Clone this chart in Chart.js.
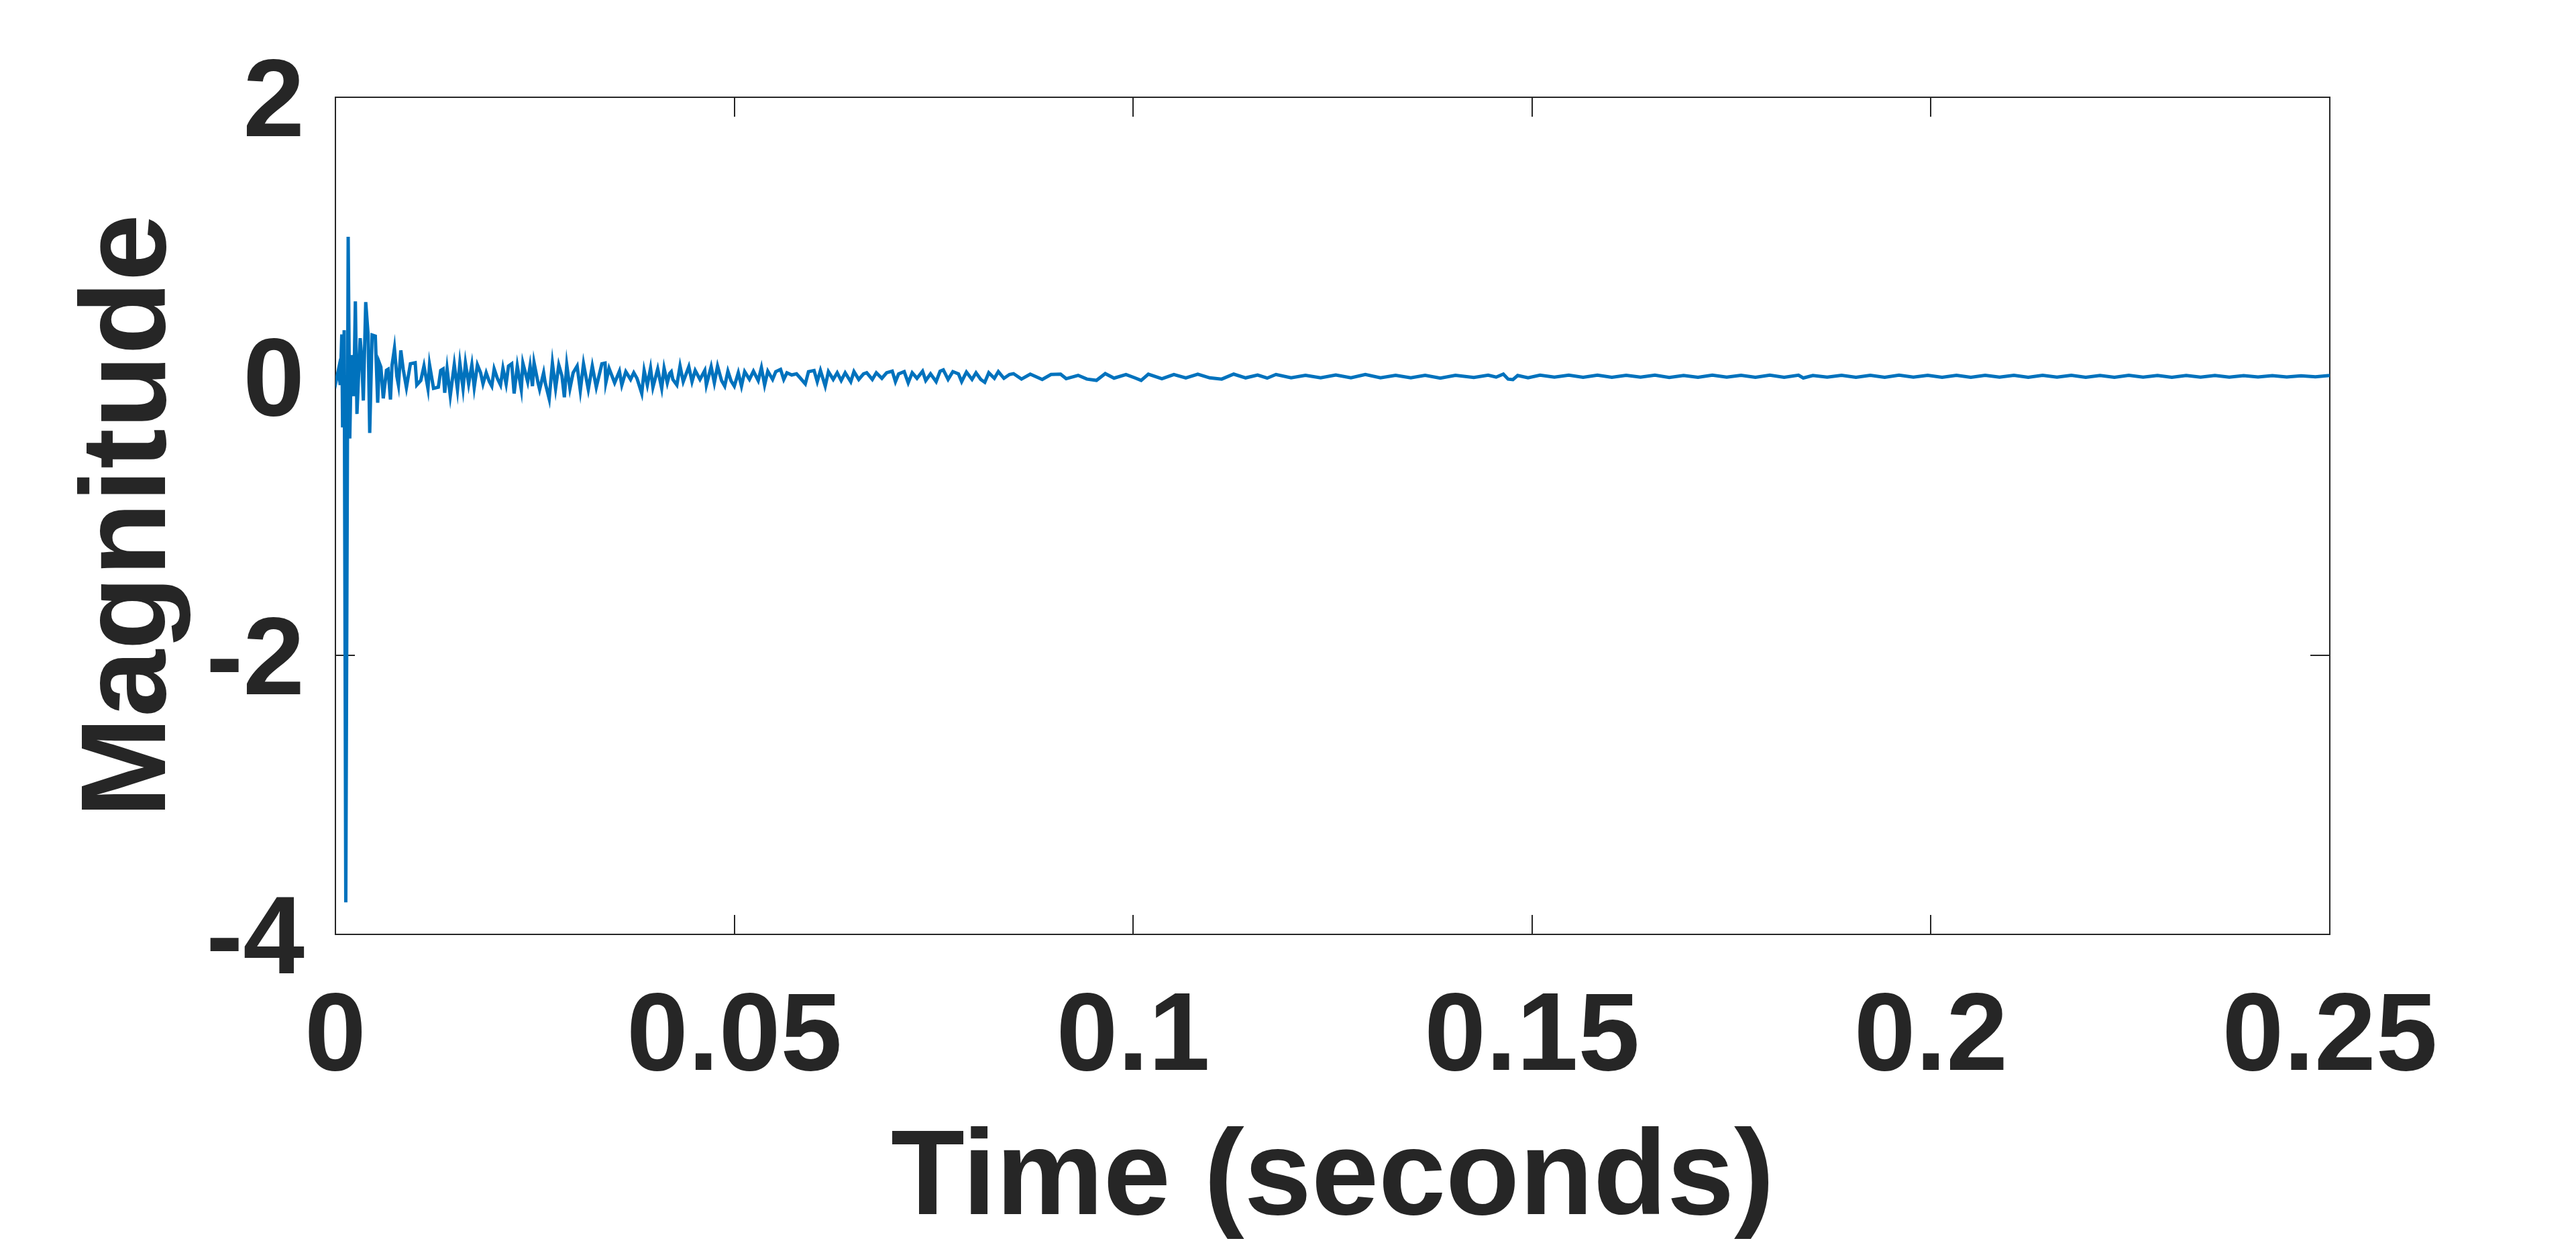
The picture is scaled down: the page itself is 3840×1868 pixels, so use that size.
<!DOCTYPE html>
<html>
<head>
    <meta charset="UTF-8">
    <title>Magnitude vs Time</title>
    <script src="https://cdn.jsdelivr.net/npm/chart.js@4.4.1/dist/chart.umd.min.js"></script>
    <style>
        body {
            margin: 0;
            background: #ffffff;
        }
        canvas {
            display: block;
        }
    </style>
</head>
<body>
<canvas id="signal" width="3840" height="1868"></canvas>

<script>
    // impact: first ~12 ms, big spike
    const impactTime = [0.0000, 0.0001, 0.0004, 0.0006, 0.0008, 0.0009, 0.0011, 0.0013, 0.0016, 0.0018,
        0.0020, 0.0023, 0.0025, 0.0027, 0.0031, 0.0033, 0.0035, 0.0038, 0.0041, 0.0043,
        0.0046, 0.0050, 0.0053, 0.0055, 0.0057, 0.0060, 0.0064, 0.0066, 0.0069, 0.0071,
        0.0074, 0.0077, 0.0079, 0.0082, 0.0085, 0.0089, 0.0094, 0.0100, 0.0102, 0.0107,
        0.0111, 0.0116];
    const impactMag = [0.000, -0.030, 0.053, -0.062, 0.300, -0.366, 0.330, -3.770, 1.000, -0.446,
        0.153, -0.142, 0.537, -0.270, 0.273, 0.130, -0.174, 0.532, 0.296, -0.406,
        0.296, 0.288, -0.190, 0.097, 0.066, -0.158, 0.043, 0.050, -0.166, 0.081,
        0.200, 0.000, -0.062, 0.186, 0.050, -0.080, 0.090, 0.097, -0.062, -0.030,
        0.074, -0.088];

    // ringing: 12 ms to 42 ms
    const ringTime = [0.0118, 0.0123, 0.0129, 0.0132, 0.0135, 0.0137, 0.0140, 0.0144, 0.0149, 0.0153,
        0.0156, 0.0160, 0.0163, 0.0167, 0.0171, 0.0174, 0.0178, 0.0182, 0.0185, 0.0189,
        0.0193, 0.0196, 0.0199, 0.0203, 0.0207, 0.0210, 0.0214, 0.0217, 0.0221, 0.0224,
        0.0228, 0.0233, 0.0235, 0.0241, 0.0244, 0.0247, 0.0249, 0.0254, 0.0256, 0.0261,
        0.0263, 0.0268, 0.0272, 0.0276, 0.0280, 0.0284, 0.0287, 0.0290, 0.0294, 0.0298,
        0.0303, 0.0307, 0.0311, 0.0317, 0.0322, 0.0327, 0.0334, 0.0338, 0.0339, 0.0343,
        0.0350, 0.0356, 0.0359, 0.0364, 0.0370, 0.0374, 0.0378, 0.0384, 0.0387, 0.0391,
        0.0395, 0.0398, 0.0404, 0.0409, 0.0412, 0.0416, 0.0419];
    const ringMag = [0.0815, -0.0864, -0.0784, 0.0416, 0.0527, -0.1183, 0.0527, -0.1391, 0.0847, -0.0944,
        0.0943, -0.0864, 0.0943, -0.0544, 0.0815, -0.0784, 0.0815, 0.0256, -0.0544, 0.0256,
        -0.0384, -0.0704, 0.0527, -0.0144, -0.0624, 0.0575, -0.0544, 0.0735, 0.0895, -0.1231,
        0.0735, -0.0944, 0.0943, -0.0384, 0.0735, -0.0704, 0.0975, -0.0464, -0.0944, 0.0256,
        -0.0464, -0.1615, 0.0943, -0.0864, 0.0815, 0.0016, -0.1503, 0.0815, -0.0864, 0.0256,
        0.0735, -0.1023, 0.0895, -0.0944, 0.0735, -0.0784, 0.0895, 0.0943, -0.0464, 0.0575,
        -0.0464, 0.0367, -0.0624, 0.0335, -0.0224, 0.0256, -0.0144, -0.1231, 0.0416, -0.0624,
        0.0575, -0.0784, 0.0527, -0.0864, 0.0575, -0.0464, 0.0208];

    // decay: 42 ms to 84 ms
    const decayTime = [0.0421, 0.0423, 0.0428, 0.0432, 0.0436, 0.0443, 0.0447, 0.0451, 0.0457, 0.0463,
        0.0465, 0.0471, 0.0475, 0.0479, 0.0484, 0.0488, 0.0492, 0.0496, 0.0500, 0.0505,
        0.0509, 0.0513, 0.0519, 0.0524, 0.0530, 0.0534, 0.0538, 0.0542, 0.0548, 0.0552,
        0.0558, 0.0562, 0.0566, 0.0572, 0.0578, 0.0583, 0.0589, 0.0593, 0.0600, 0.0604,
        0.0608, 0.0614, 0.0618, 0.0624, 0.0629, 0.0634, 0.0639, 0.0646, 0.0650, 0.0656,
        0.0662, 0.0666, 0.0673, 0.0678, 0.0685, 0.0691, 0.0698, 0.0702, 0.0706, 0.0713,
        0.0718, 0.0723, 0.0729, 0.0736, 0.0740, 0.0746, 0.0753, 0.0758, 0.0762, 0.0768,
        0.0774, 0.0781, 0.0785, 0.0791, 0.0798, 0.0803, 0.0809, 0.0814, 0.0819, 0.0826,
        0.0831, 0.0838];
    const decayMag = [0.0335, -0.0224, -0.0623, 0.0735, -0.0384, 0.0687, -0.0384, 0.0415, -0.0224, 0.0415,
        -0.0623, 0.0687, -0.0463, 0.0735, -0.0304, -0.0703, 0.0367, -0.0336, -0.0703, 0.0255,
        -0.0703, 0.0335, -0.0224, 0.0367, -0.0304, 0.0623, -0.0623, 0.0367, -0.0224, 0.0335,
        0.0495, -0.0224, 0.0255, 0.0096, 0.0175, -0.0144, -0.0543, 0.0335, 0.0415, -0.0384,
        0.0415, -0.0703, 0.0335, -0.0224, 0.0255, -0.0304, 0.0255, -0.0384, 0.0335, -0.0224,
        0.0175, 0.0255, -0.0224, 0.0255, -0.0144, 0.0255, 0.0367, -0.0384, 0.0175, 0.0335,
        -0.0463, 0.0255, -0.0144, 0.0367, -0.0304, 0.0175, -0.0384, 0.0367, 0.0463, -0.0224,
        0.0335, 0.0175, -0.0384, 0.0303, -0.0224, 0.0255, -0.0224, -0.0432, 0.0255, -0.0144,
        0.0335, -0.0144];

    // settling: 84 ms to 143 ms
    const settleTime = [0.0845, 0.0850, 0.0860, 0.0871, 0.0886, 0.0897, 0.0909, 0.0916, 0.0931, 0.0942,
        0.0954, 0.0965, 0.0976, 0.0991, 0.1002, 0.1010, 0.1019, 0.1036, 0.1051, 0.1066,
        0.1081, 0.1096, 0.1111, 0.1126, 0.1141, 0.1156, 0.1168, 0.1179, 0.1198, 0.1216,
        0.1235, 0.1254, 0.1273, 0.1291, 0.1310, 0.1329, 0.1348, 0.1366, 0.1385, 0.1404,
        0.1427];
    const settleMag = [0.0130, 0.0190, -0.0200, 0.0155, -0.0230, 0.0130, 0.0155, -0.0170, 0.0070, -0.0200,
        -0.0290, 0.0190, -0.0130, 0.0130, -0.0110, -0.0290, 0.0155, -0.0170, 0.0130, -0.0110,
        0.0155, -0.0110, -0.0200, 0.0155, -0.0110, 0.0095, -0.0130, 0.0130, -0.0110, 0.0070,
        -0.0110, 0.0095, -0.0110, 0.0130, -0.0110, 0.0070, -0.0110, 0.0070, -0.0130, 0.0070,
        -0.0085];

    // tail: 143 ms to 250 ms
    const tailTime = [0.1445, 0.1455, 0.1464, 0.1470, 0.1476, 0.1482, 0.1495, 0.1510, 0.1528, 0.1546,
        0.1564, 0.1582, 0.1600, 0.1618, 0.1636, 0.1654, 0.1672, 0.1690, 0.1708, 0.1726,
        0.1744, 0.1762, 0.1780, 0.1798, 0.1816, 0.1834, 0.1840, 0.1852, 0.1870, 0.1888,
        0.1906, 0.1924, 0.1942, 0.1960, 0.1978, 0.1996, 0.2014, 0.2032, 0.2050, 0.2068,
        0.2086, 0.2104, 0.2122, 0.2140, 0.2158, 0.2176, 0.2194, 0.2212, 0.2230, 0.2248,
        0.2266, 0.2284, 0.2302, 0.2320, 0.2338, 0.2356, 0.2374, 0.2392, 0.2410, 0.2428,
        0.2446, 0.2464, 0.2482, 0.2500];
    const tailMag = [0.008, -0.006, 0.016, -0.020, -0.024, 0.006, -0.010, 0.008, -0.006, 0.008,
        -0.007, 0.008, -0.007, 0.007, -0.006, 0.008, -0.008, 0.006, -0.007, 0.008,
        -0.006, 0.007, -0.007, 0.008, -0.007, 0.008, -0.012, 0.006, -0.006, 0.007,
        -0.007, 0.007, -0.007, 0.008, -0.006, 0.007, -0.007, 0.007, -0.007, 0.007,
        -0.006, 0.007, -0.007, 0.007, -0.006, 0.007, -0.007, 0.006, -0.007, 0.007,
        -0.006, 0.006, -0.007, 0.006, -0.006, 0.006, -0.006, 0.005, -0.005, 0.005,
        -0.005, 0.004, -0.004, 0.006];

    const xTicks = [0, 0.05, 0.1, 0.15, 0.2, 0.25];
    const xTickLabels = ['0', '0.05', '0.1', '0.15', '0.2', '0.25'];
    const yTicks = [-4, -2, 0, 2];
    const yTickLabels = ['-4', '-2', '0', '2'];

    const times = [].concat(impactTime, ringTime, decayTime, settleTime, tailTime);
    const mags = [].concat(impactMag, ringMag, decayMag, settleMag, tailMag);
    const points = times.map((t, i) => ({x: t, y: mags[i]}));

    const inkColor = '#262626';
    const tickFont = {family: '"Liberation Sans", Arial, sans-serif', size: 165, weight: 'bold'};
    const titleFont = {family: '"Liberation Sans", Arial, sans-serif', size: 180, weight: 'bold'};

    // MATLAB-style box with inward ticks on all four sides
    const boxTicks = {
        id: 'boxTicks',
        beforeDatasetsDraw(chart) {
            const {ctx, chartArea: a, scales: {x, y}} = chart;
            const len = 29;
            ctx.save();
            ctx.strokeStyle = inkColor;
            ctx.lineWidth = 2;
            ctx.strokeRect(a.left, a.top, a.right - a.left, a.bottom - a.top);
            ctx.beginPath();
            xTicks.forEach(v => {
                const px = Math.round(x.getPixelForValue(v));
                ctx.moveTo(px, a.bottom); ctx.lineTo(px, a.bottom - len);
                ctx.moveTo(px, a.top); ctx.lineTo(px, a.top + len);
            });
            yTicks.forEach(v => {
                const py = Math.round(y.getPixelForValue(v));
                ctx.moveTo(a.left, py); ctx.lineTo(a.left + len, py);
                ctx.moveTo(a.right, py); ctx.lineTo(a.right - len, py);
            });
            ctx.stroke();
            ctx.restore();
        }
    };

    new Chart(document.getElementById('signal'), {
        type: 'line',
        data: {
            datasets: [{
                data: points,
                borderColor: '#0072BD',
                borderWidth: 5,
                pointRadius: 0,
                tension: 0,
                fill: false,
                borderJoinStyle: 'miter'
            }]
        },
        options: {
            responsive: false,
            animation: false,
            devicePixelRatio: 1,
            layout: {padding: {top: 140, right: 367, bottom: 0, left: 0}},
            plugins: {legend: {display: false}, tooltip: {enabled: false}},
            scales: {
                x: {
                    type: 'linear',
                    position: 'bottom',
                    min: 0,
                    max: 0.25,
                    grid: {display: false, drawTicks: false},
                    border: {display: false},
                    afterBuildTicks: s => { s.ticks = xTicks.map(v => ({value: v})); },
                    afterFit: s => { s.height = 475; },
                    ticks: {
                        color: inkColor,
                        font: tickFont,
                        padding: 57,
                        maxRotation: 0,
                        autoSkip: false,
                        callback: v => xTickLabels[xTicks.indexOf(v)]
                    },
                    title: {
                        display: true,
                        text: 'Time (seconds)',
                        color: inkColor,
                        font: titleFont,
                        padding: {top: 0, bottom: 0}
                    }
                },
                y: {
                    type: 'linear',
                    min: -4,
                    max: 2,
                    grid: {display: false, drawTicks: false},
                    border: {display: false},
                    afterBuildTicks: s => { s.ticks = yTicks.map(v => ({value: v})); },
                    afterFit: s => { s.width = 500; },
                    ticks: {
                        color: inkColor,
                        font: tickFont,
                        padding: 46,
                        labelOffset: 12,
                        autoSkip: false,
                        callback: v => yTickLabels[yTicks.indexOf(v)]
                    },
                    title: {
                        display: true,
                        text: 'Magnitude',
                        color: inkColor,
                        font: titleFont,
                        padding: {top: 88, bottom: 0}
                    }
                }
            }
        },
        plugins: [boxTicks]
    });
</script>
</body>
</html>
